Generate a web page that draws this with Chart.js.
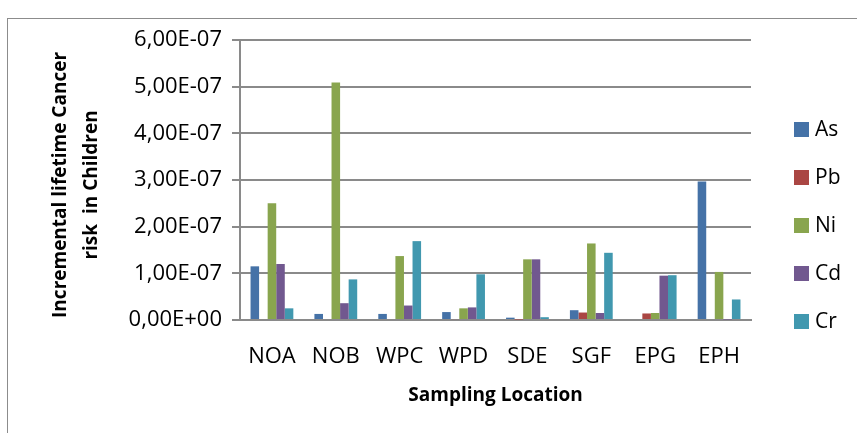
<!DOCTYPE html>
<html>
<head>
<meta charset="utf-8">
<script src="https://cdn.jsdelivr.net/npm/chart.js@4/dist/chart.umd.min.js"></script>
<style>
  html, body { margin: 0; padding: 0; background: #fff; }
  #wrap { width: 857px; height: 433px; }
</style>
</head>
<body>
<div id="wrap"><canvas id="c" width="857" height="433"></canvas></div>
<script>
// Sampling locations along the x axis
const categories = ['NOA', 'NOB', 'WPC', 'WPD', 'SDE', 'SGF', 'EPG', 'EPH'];

// Incremental lifetime cancer risk in children, per metal
const seriesNames = ['As', 'Pb', 'Ni', 'Cd', 'Cr'];
const asValues = [1.15e-7, 0.13e-7, 0.13e-7, 0.17e-7, 0.05e-7, 0.21e-7, 0, 2.97e-7];
const pbValues = [0, 0, 0, 0.02e-7, 0.01e-7, 0.16e-7, 0.14e-7, 0];
const niValues = [2.50e-7, 5.09e-7, 1.37e-7, 0.25e-7, 1.30e-7, 1.64e-7, 0.15e-7, 1.03e-7];
const cdValues = [1.20e-7, 0.36e-7, 0.31e-7, 0.27e-7, 1.30e-7, 0.15e-7, 0.95e-7, 0.01e-7];
const crValues = [0.25e-7, 0.87e-7, 1.69e-7, 0.98e-7, 0.06e-7, 1.44e-7, 0.96e-7, 0.44e-7];

// Y axis tick labels, bottom to top
const yTickLabels = ['0,00E+00', '1,00E-07', '2,00E-07', '3,00E-07', '4,00E-07', '5,00E-07', '6,00E-07'];

const seriesColors = ['#4572A7', '#AA4643', '#89A54E', '#71588F', '#4198AF'];
const seriesValues = [asValues, pbValues, niValues, cdValues, crValues];

const GRID = '#8a8a8a';
const FONT = "'Open Sans', sans-serif";

// Frame around the whole chart
const framePlugin = {
  id: 'frame',
  beforeDraw(chart) {
    const ctx = chart.ctx;
    ctx.save();
    ctx.fillStyle = '#fff';
    ctx.fillRect(0, 0, chart.width, chart.height);
    ctx.strokeStyle = '#8c8c8c';
    ctx.lineWidth = 1;
    ctx.strokeRect(7.5, 18.5, chart.width + 20, chart.height + 20);
    ctx.restore();
  }
};

// Legend drawn as a column to the right of the plot
const sideLegend = {
  id: 'sideLegend',
  afterDraw(chart) {
    const ctx = chart.ctx;
    ctx.save();
    ctx.font = "21px " + FONT;
    ctx.textBaseline = 'middle';
    ctx.textAlign = 'left';
    chart.data.datasets.forEach((ds, i) => {
      const cy = 129 + i * 48;
      ctx.fillStyle = ds.backgroundColor;
      ctx.fillRect(794, cy - 7, 15, 15);
      ctx.fillStyle = '#000';
      ctx.fillText(ds.label, 815, cy + 1);
    });
    ctx.restore();
  }
};

new Chart(document.getElementById('c'), {
  type: 'bar',
  data: {
    labels: categories,
    datasets: seriesNames.map((name, i) => ({
      label: name,
      data: seriesValues[i],
      backgroundColor: seriesColors[i],
      borderWidth: 0,
      categoryPercentage: 0.67,
      barPercentage: 1.0
    }))
  },
  options: {
    responsive: false,
    animation: false,
    layout: { padding: { left: 0, top: 40, right: 106, bottom: 0 } },
    plugins: {
      legend: { display: false },
      tooltip: { enabled: false }
    },
    scales: {
      x: {
        grid: { display: false },
        border: { display: true, color: GRID, width: 2 },
        ticks: { color: '#000', font: { family: FONT, size: 22 }, padding: 16 },
        title: {
          display: true,
          text: 'Sampling Location',
          color: '#000',
          font: { family: FONT, size: 19, weight: 'bold' },
          padding: { top: 0, bottom: 26 }
        },
        afterFit(scale) { scale.height = 113; }
      },
      y: {
        min: 0,
        max: 6e-7,
        ticks: {
          stepSize: 1e-7,
          color: '#000',
          font: { family: FONT, size: 22 },
          padding: 10,
          callback: (v, i) => yTickLabels[i]
        },
        grid: { color: GRID, lineWidth: 2, tickLength: 8, drawTicks: true },
        border: { display: true, color: GRID, width: 2 },
        title: {
          display: true,
          text: ['Incremental lifetime Cancer  ', 'risk  in Children  '],
          color: '#000',
          font: { family: FONT, size: 19, weight: 'bold', lineHeight: 31 / 19 },
          padding: { top: 45 }
        },
        afterFit(scale) { scale.width = 240; }
      }
    }
  },
  plugins: [framePlugin, sideLegend]
});
</script>
</body>
</html>
